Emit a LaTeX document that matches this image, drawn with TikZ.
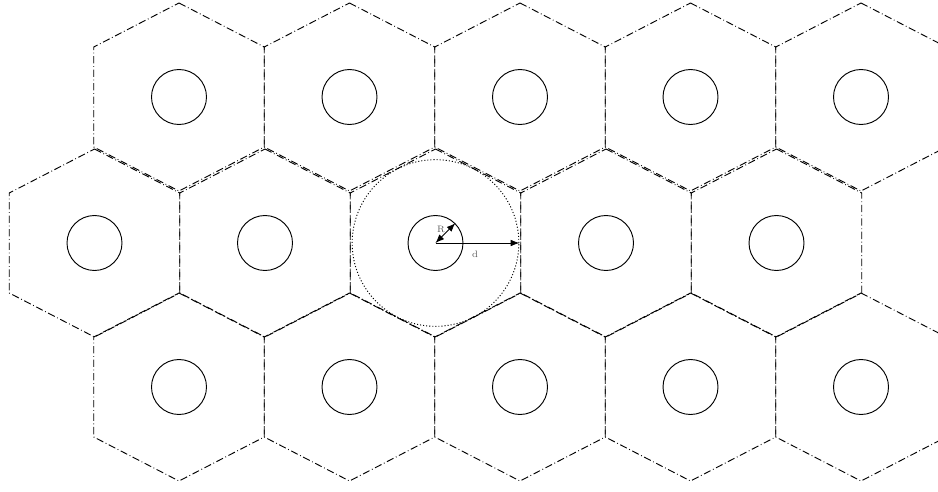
\documentclass[tikz,border=0pt]{standalone}
\usetikzlibrary{arrows.meta}
\begin{document}
\begin{tikzpicture}[x=0.75pt,y=-0.75pt]

  % One unit = one pixel of the 938 x 492 frame, y pointing down.
  \useasboundingbox (0,0) rectangle (938,492);
  \clip (0,0) rectangle (938,492);

  \tikzset{
    hexcell/.style={line width=0.7pt, dash pattern=on 5.5pt off 2pt on 0.6pt off 2pt},
    antenna/.style={draw, circle, line width=0.7pt, inner sep=0pt, minimum size=41.25pt},
    reusering/.style={draw, circle, line width=0.7pt, dash pattern=on 0.8pt off 1.5pt,
                      inner sep=0pt, minimum size=125pt},
    dimarrow/.style={line width=0.6pt},
    dimlabel/.style={font=\scriptsize, text=black!65, inner sep=0pt}
  }

  % Three rows of five cells, the middle row shifted half a cell to the left
  \foreach \row/\y/\xo in {1/97/179, 2/243/94.5, 3/387/179} {
    \foreach \col in {1,...,5} {
      \pgfmathsetmacro\x{\xo+(\col-1)*170.5}
      \draw[hexcell] (\x,\y) ++(0,-94) -- ++(85.25,44) -- ++(0,100) -- ++(-85.25,44)
        -- ++(-85.25,-44) -- ++(0,-100) -- cycle;
      \node[antenna] (ant\row\col) at (\x,\y) {};
    }
  }

  % Reuse distance around the centre cell
  \node[reusering] (reuse) at (ant23) {};

  \draw[dimarrow, {Latex[length=6.5pt,width=5pt]}-{Latex[length=6.5pt,width=5pt]}]
    (ant23.center) -- (ant23.45);
  \draw[dimarrow, -{Latex[length=6.5pt,width=5pt]}]
    (ant23.center) -- (reuse.east);

  \node[dimlabel] (rlabel) at (441,229) {R};
  \node[dimlabel] (dlabel) at (475,254) {d};

\end{tikzpicture}
\end{document}
